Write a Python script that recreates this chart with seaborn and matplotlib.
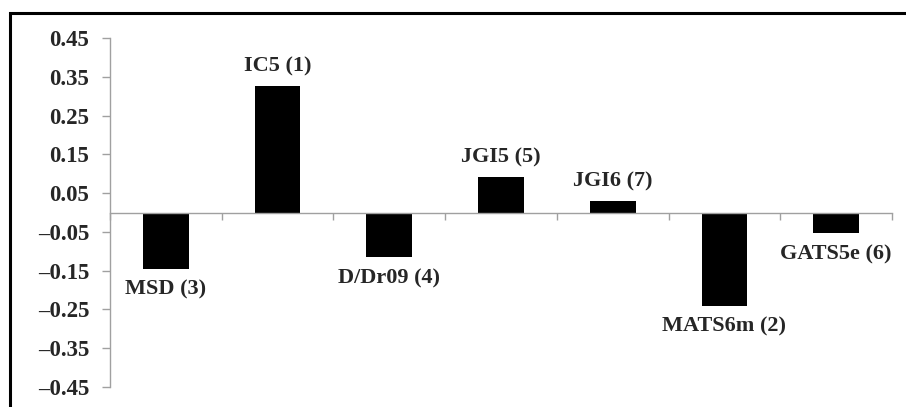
import matplotlib
matplotlib.use("Agg")
import matplotlib.pyplot as plt
from matplotlib.patches import Rectangle
import seaborn as sns
import pandas as pd

# Descriptor contributions (rank in parentheses)
descriptors = ["MSD (3)", "IC5 (1)", "D/Dr09 (4)", "JGI5 (5)", "JGI6 (7)", "MATS6m (2)", "GATS5e (6)"]
values = [-0.145, 0.325, -0.115, 0.091, 0.029, -0.240, -0.054]
yticks = [0.45, 0.35, 0.25, 0.15, 0.05, -0.05, -0.15, -0.25, -0.35, -0.45]

sns.set_theme(style="white")
plt.rcParams["font.family"] = ["Liberation Serif", "DejaVu Serif"]
plt.rcParams["font.weight"] = "bold"

df = pd.DataFrame({"descriptor": descriptors, "value": values})

fig = plt.figure(figsize=(9.06, 4.07), dpi=100)
fig.patch.set_facecolor("white")
ax = fig.add_axes([110 / 906, 1 - 387 / 407, (892 - 110) / 906, (387 - 38) / 407])

sns.barplot(data=df, x="descriptor", y="value", color="black", width=0.41,
            saturation=1, ax=ax, edgecolor="black", linewidth=0)

ax.set_ylim(-0.45, 0.45)
ax.set_xlim(-0.5, len(descriptors) - 0.5)
ax.set_yticks(yticks)
ax.set_yticklabels([f"{v:.2f}".replace("-", "\u2013") for v in yticks],
                   fontsize=16.5, fontweight="bold")
ax.set_xticks([i - 0.5 for i in range(len(descriptors) + 1)])
ax.set_xticklabels([])
ax.set_xlabel("")
ax.set_ylabel("")

for side in ("top", "right"):
    ax.spines[side].set_visible(False)
ax.spines["bottom"].set_position(("data", 0))
for side in ("left", "bottom"):
    ax.spines[side].set_color("#a0a0a0")
    ax.spines[side].set_linewidth(1.0)
ax.tick_params(axis="y", direction="out", length=6, width=1.0, color="#a0a0a0", pad=9,
               left=True)
ax.tick_params(axis="x", direction="out", length=5, width=1.0, color="#a0a0a0",
               bottom=True)
ax.grid(False)
ax.set_facecolor("white")

# Bar labels: above positive bars, below negative ones
for i, (name, v) in enumerate(zip(descriptors, values)):
    if v >= 0:
        ax.annotate(name, (i, v), xytext=(0, 7), textcoords="offset points",
                    ha="center", va="bottom", fontsize=16, fontweight="bold")
    else:
        ax.annotate(name, (i, v), xytext=(0, -8), textcoords="offset points",
                    ha="center", va="top", fontsize=16, fontweight="bold")

# Outer chart frame
fig.patches.append(Rectangle((10 / 906, -0.2), 1.5, 1.2 - 12.5 / 407,
                             transform=fig.transFigure, fill=False,
                             edgecolor="black", linewidth=2.2, clip_on=False))

fig.savefig("out.png", dpi=100, facecolor="white")
